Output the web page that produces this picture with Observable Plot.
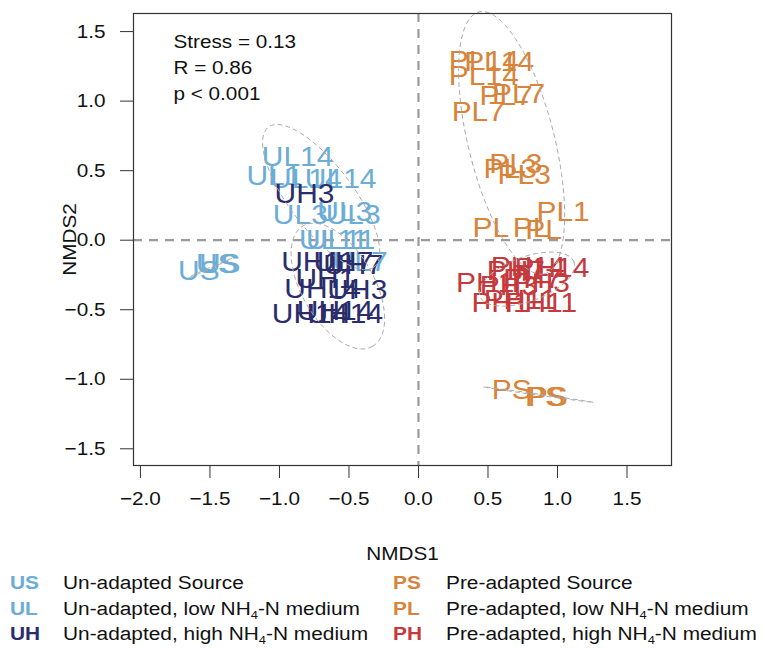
<!DOCTYPE html>
<html>
<head>
<meta charset="utf-8">
<script src="https://cdn.jsdelivr.net/npm/d3@7"></script>
<script src="https://cdn.jsdelivr.net/npm/@observablehq/plot@0.6"></script>
<style>
  html, body { margin: 0; padding: 0; background: #fff; }
  #wrap { width: 763px; font-family: 'Liberation Sans', Arial, Helvetica, sans-serif; }
  #legend { position: relative; width: 763px; height: 78px; font-size: 18.8px; color: #111; }
  #legend span { position: absolute; white-space: nowrap; line-height: 25.5px; transform: scaleX(1.11); transform-origin: left center; }
  #legend .code { font-weight: bold; }
  #legend sub { font-size: 0.62em; vertical-align: -0.35em; line-height: 0; }
</style>
</head>
<body>
<div id="wrap"><div id="chart"></div><div id="legend"></div></div>
<script>
// ---- data (NMDS scores) ----
const US_pts = [["US", -1.58, -0.22], ["US", -1.45, -0.17], ["US", -1.43, -0.17]];
const UL_pts = [
  ["UL14", -0.87, 0.60], ["UL1", -1.04, 0.46], ["UL14", -0.81, 0.44], ["UL14", -0.56, 0.44],
  ["UL3", -0.85, 0.18], ["UL3", -0.53, 0.20], ["UL3", -0.47, 0.18],
  ["UL11", -0.61, 0.00], ["UL11", -0.56, 0.00], ["UL7", -0.42, -0.16]
];
const UH_pts = [
  ["UH3", -0.82, 0.33], ["UH11", -0.72, -0.16], ["UH7", -0.54, -0.16], ["UH7", -0.47, -0.18],
  ["UH1", -0.67, -0.28], ["UH14", -0.69, -0.35], ["UH3", -0.44, -0.36],
  ["UH14", -0.78, -0.53], ["UH14", -0.53, -0.53], ["UH14", -0.60, -0.51]
];
const PS_pts = [["PS", 0.67, -1.08], ["PS", 0.91, -1.13], ["PS", 0.93, -1.13]];
const PL_pts = [
  ["PL14", 0.47, 1.29], ["PL14", 0.58, 1.28], ["PL14", 0.47, 1.18],
  ["PL7", 0.63, 1.04], ["PL7", 0.72, 1.05], ["PL7", 0.43, 0.92],
  ["PL3", 0.70, 0.55], ["PL3", 0.76, 0.47], ["PL3", 0.66, 0.51],
  ["PL", 0.52, 0.09], ["PL", 0.81, 0.09], ["PL", 0.90, 0.07], ["PL1", 1.04, 0.20]
];
const PH_pts = [
  ["PH14", 0.96, -0.20], ["PH14", 0.79, -0.19], ["PH7", 0.70, -0.22], ["PH7", 0.82, -0.28],
  ["PH3", 0.88, -0.31], ["PH1", 0.48, -0.31], ["PH3", 0.65, -0.33],
  ["PH1", 0.59, -0.45], ["PH11", 0.73, -0.43], ["PH11", 0.88, -0.45]
];
// group ellipses: centre, semi-axes, angle (degrees)
const ellipseGroups = ["US", "UL", "UH", "PS", "PL", "PH"];
const ellipseCx = [-1.50, -0.70, -0.58, 0.86, 0.67, 0.78];
const ellipseCy = [-0.20, 0.31, -0.33, -1.11, 0.70, -0.28];
const ellipseA  = [0.17, 0.63, 0.50, 0.40, 0.97, 0.36];
const ellipseB  = [0.004, 0.23, 0.26, 0.004, 0.31, 0.16];
const ellipseAngle = [24, -53, -60, -8, -76, 20];

const xTicks = [-2.0, -1.5, -1.0, -0.5, 0.0, 0.5, 1.0, 1.5];
const yTicks = [-1.5, -1.0, -0.5, 0.0, 0.5, 1.0, 1.5];
const statsText = ["Stress = 0.13", "R = 0.86", "p < 0.001"];

const legendCodes = ["US", "UL", "UH", "PS", "PL", "PH"];
const legendDescs = [
  "Un-adapted Source", "Un-adapted, low NH<sub>4</sub>-N medium", "Un-adapted, high NH<sub>4</sub>-N medium",
  "Pre-adapted Source", "Pre-adapted, low NH<sub>4</sub>-N medium", "Pre-adapted, high NH<sub>4</sub>-N medium"
];

// ---- styles ----
const colors = {US: "#6badd6", UL: "#6badd6", UH: "#2b2c6c", PS: "#d8843a", PL: "#d8843a", PH: "#c5383b"};

const groupsPts = {US: US_pts, UL: UL_pts, UH: UH_pts, PS: PS_pts, PL: PL_pts, PH: PH_pts};
const points = Object.entries(groupsPts).flatMap(([g, arr]) => arr.map(([label, x, y]) => ({group: g, label, x, y})));

const ellipsePts = ellipseGroups.flatMap((g, k) => {
  const r = ellipseAngle[k] * Math.PI / 180;
  return d3.range(0, 121).map(i => {
    const t = 2 * Math.PI * i / 120;
    const u = ellipseA[k] * Math.cos(t), v = ellipseB[k] * Math.sin(t);
    return {id: g, x: ellipseCx[k] + u * Math.cos(r) - v * Math.sin(r), y: ellipseCy[k] + u * Math.sin(r) + v * Math.cos(r)};
  });
});

const fmt = d3.format(".1f");
const svg = Plot.plot({
  width: 763, height: 570,
  marginLeft: 133, marginRight: 92, marginTop: 13, marginBottom: 105,
  style: {fontFamily: "'Liberation Sans', Arial, Helvetica, sans-serif", background: "#fff", color: "#111"},
  x: {domain: [-2.05, 1.82], label: null},
  y: {domain: [-1.62, 1.63], label: null},
  marks: [
    Plot.ruleX([0], {stroke: "#9a9a9a", strokeWidth: 2.2, strokeDasharray: "9,7"}),
    Plot.ruleY([0], {stroke: "#9a9a9a", strokeWidth: 2.2, strokeDasharray: "9,7"}),
    Plot.text(points, {x: "x", y: "y", text: "label", fill: d => colors[d.group], fontSize: 28, className: "ptlab"}),
    Plot.line(ellipsePts, {x: "x", y: "y", z: "id", stroke: "#a8a8a8", strokeWidth: 1, strokeDasharray: "4,4", curve: "linear"}),
    Plot.frame({stroke: "#333", strokeWidth: 1.2}),
    Plot.axisX({ticks: xTicks, tickFormat: fmt, tickSize: 13, tickPadding: 13, fontSize: 18.5, stroke: "#333",
      label: "NMDS1", labelAnchor: "center", labelOffset: 94, labelArrow: "none"}),
    Plot.axisY({ticks: yTicks, tickFormat: fmt, tickSize: 13, tickPadding: 15, fontSize: 18.5, stroke: "#333",
      label: "NMDS2", labelAnchor: "center", labelOffset: 71, labelArrow: "none"}),
    Plot.text([statsText.join("\n")], {frameAnchor: "top-left", dx: 40, dy: 16, text: d => d, fontSize: 18.5,
      lineHeight: 1.4, textAnchor: "start", lineAnchor: "top", fill: "#111"})
  ]
});
// widen glyphs slightly to match the reference's horizontally stretched lettering
svg.querySelectorAll("text").forEach(t => {
  const tr = t.getAttribute("transform");
  const isPoint = t.closest(".ptlab") !== null;
  if (tr) t.setAttribute("transform", tr + (isPoint ? " scale(1.07,1)" : " scale(1.12,1)"));
});
document.getElementById("chart").appendChild(svg);

// ---- legend ----
const legend = document.getElementById("legend");
legendCodes.forEach((c, i) => {
  const col = Math.floor(i / 3), row = i % 3;
  const code = document.createElement("span");
  code.className = "code";
  code.textContent = c;
  code.style.color = colors[c];
  code.style.left = (col ? 393 : 10) + "px";
  code.style.top = (row * 25.5) + "px";
  legend.appendChild(code);
  const desc = document.createElement("span");
  desc.innerHTML = legendDescs[i];
  desc.style.left = (col ? 446 : 63) + "px";
  desc.style.top = (row * 25.5) + "px";
  legend.appendChild(desc);
});
</script>
</body>
</html>
